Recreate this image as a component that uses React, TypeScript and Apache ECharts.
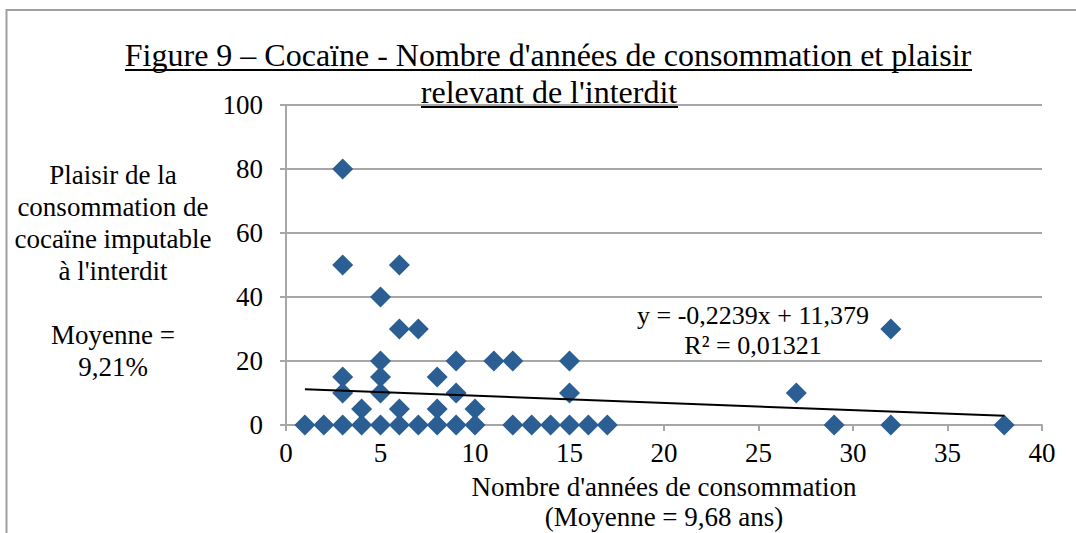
import React, { useEffect, useRef } from "react";
import * as echarts from "echarts";

const yearsOfUse = [1, 2, 3, 3, 3, 3, 3, 4, 4, 5, 5, 5, 5, 5, 6, 6, 6, 6, 7, 7, 8, 8, 8, 9, 9, 9, 10, 10, 11, 12, 12, 13, 14, 15, 15, 15, 16, 17, 27, 29, 32, 32, 38];
const pleasureValues = [0, 0, 80, 50, 15, 10, 0, 5, 0, 40, 20, 15, 10, 0, 50, 30, 5, 0, 30, 0, 15, 5, 0, 20, 10, 0, 5, 0, 20, 20, 0, 0, 0, 20, 10, 0, 0, 0, 10, 0, 30, 0, 0];

const trendSlope = -0.2239;
const trendIntercept = 11.379;
const trendRange = [1, 38];

const titleLines = ["Figure 9 – Cocaïne - Nombre d'années de consommation et plaisir", "relevant de l'interdit"];
const yAxisTitle = "Plaisir de la\nconsommation de\ncocaïne imputable\nà l'interdit\n\nMoyenne =\n9,21%";
const xAxisTitle = "Nombre d'années de consommation\n(Moyenne = 9,68 ans)";
const equationText = "y = -0,2239x + 11,379\nR² = 0,01321";

const FONT = "'Liberation Serif', 'Times New Roman', serif";
const GRAY = "#A6A6A6";

export default function App() {
  const ref = useRef<HTMLDivElement>(null);
  useEffect(() => {
    if (!ref.current) return;
    const chart = echarts.init(ref.current, null, { renderer: "svg" });
    const points = yearsOfUse.map((x, i) => [x, pleasureValues[i]]);
    const trend = trendRange.map((x) => [x, trendSlope * x + trendIntercept]);
    chart.setOption({
      animation: false,
      backgroundColor: "#fff",
      grid: { left: 286, right: 34, top: 105, bottom: 108, outerBoundsMode: "none", containLabel: false },
      xAxis: {
        type: "value",
        min: 0,
        max: 40,
        interval: 5,
        axisLine: { show: true, lineStyle: { color: GRAY, width: 2 } },
        axisTick: { show: true, length: 6, lineStyle: { color: GRAY, width: 2 } },
        splitLine: { show: false },
        axisLabel: { fontFamily: FONT, fontSize: 27, color: "#000", margin: 14 },
        name: xAxisTitle,
        nameLocation: "middle",
        nameGap: 47,
        nameTextStyle: { fontFamily: FONT, fontSize: 27, color: "#000", lineHeight: 30 },
      },
      yAxis: {
        type: "value",
        min: 0,
        max: 100,
        interval: 20,
        axisLine: { show: true, lineStyle: { color: GRAY, width: 2 } },
        axisTick: { show: true, length: 6, lineStyle: { color: GRAY, width: 2 } },
        splitLine: { show: true, lineStyle: { color: GRAY, width: 2 } },
        axisLabel: { fontFamily: FONT, fontSize: 27, color: "#000", margin: 23 },
      },
      series: [
        {
          type: "scatter",
          data: points,
          symbol: "diamond",
          symbolSize: 21,
          itemStyle: { color: "#2B5E93", opacity: 1 },
          z: 3,
        },
        {
          type: "line",
          data: trend,
          symbol: "none",
          lineStyle: { color: "#000", width: 2 },
          z: 4,
        },
      ],
      graphic: [
        {
          type: "polyline",
          shape: { points: [[1076, 10], [6.5, 10], [6.5, 533]] },
          style: { stroke: "#A0A0A0", lineWidth: 2, fill: "none" },
          silent: true,
        },
        {
          type: "text",
          x: 548,
          y: 55,
          style: { text: titleLines[0], fontFamily: FONT, fontSize: 32, fill: "#000", align: "center", verticalAlign: "middle" },
        },
        {
          type: "text",
          x: 549,
          y: 92,
          style: { text: titleLines[1], fontFamily: FONT, fontSize: 32, fill: "#000", align: "center", verticalAlign: "middle" },
        },
        { type: "line", shape: { x1: 125, y1: 70, x2: 972, y2: 70 }, style: { stroke: "#000", lineWidth: 2 } },
        { type: "line", shape: { x1: 421, y1: 107, x2: 678, y2: 107 }, style: { stroke: "#000", lineWidth: 2 }, z: 10 },
        {
          type: "text",
          x: 113,
          y: 271,
          style: { text: yAxisTitle, fontFamily: FONT, fontSize: 27, lineHeight: 32, fill: "#000", align: "center", verticalAlign: "middle" },
        },
        {
          type: "text",
          x: 753,
          y: 330,
          style: { text: equationText, fontFamily: FONT, fontSize: 26, lineHeight: 30, fill: "#000", align: "center", verticalAlign: "middle" },
        },
      ],
    });
    return () => chart.dispose();
  }, []);
  return <div ref={ref} style={{ position: "absolute", left: 0, top: 0, width: 1076, height: 533 }} />;
}
